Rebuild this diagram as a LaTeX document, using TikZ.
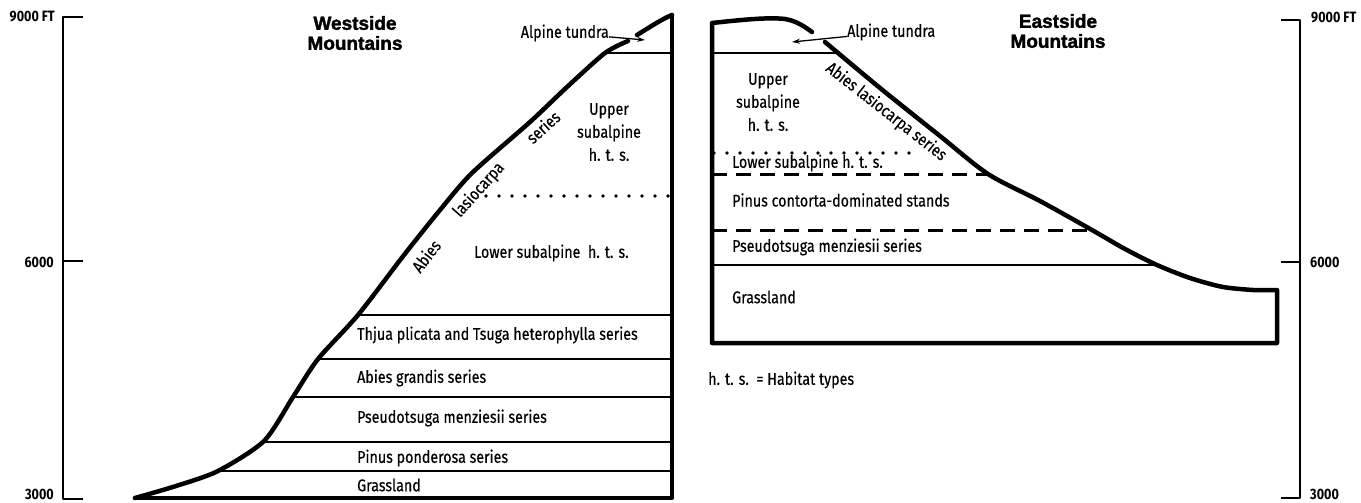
\documentclass[tikz,border=0pt]{standalone}
\usepackage{fontspec}
\setmainfont{Fira Sans}[FakeStretch=0.84,UprightFeatures={FakeBold=0.4}]
\newfontfamily\titlefont{Liberation Sans}[BoldFeatures={FakeBold=1.8}]
\usetikzlibrary{arrows.meta}
\begin{document}
\begin{tikzpicture}[x=1pt,y=-1pt,line join=round,
  outline/.style={line width=4.5pt,line cap=round,line join=round},
  layer/.style={line width=2.8pt},
  axisline/.style={line width=2pt},
  dotline/.style={line width=3.8pt,line cap=round,dash pattern=on 0pt off 13pt},
  dashline/.style={line width=3pt,dash pattern=on 15pt off 9pt},
  arr/.style={line width=1.3pt,-{Stealth[length=8pt,width=5pt]}},
  lbl/.style={font=\fontsize{17}{23}\selectfont,inner sep=0pt,anchor=west},
  ttl/.style={font=\titlefont\bfseries\fontsize{19}{20}\selectfont,align=center,inner sep=0pt},
  ax/.style={font=\bfseries\fontsize{15}{16}\selectfont,inner sep=0pt}]
\useasboundingbox (0,0) rectangle (1361,503);
\fill[white] (0,0) rectangle (1361,503);
% left axis
\draw[axisline] (83,17) -- (63,17) -- (63,499) -- (83,499);
\draw[axisline] (63,261) -- (83,261);
\node[ax,anchor=east] (a9) at (55,17) {9000 FT};
\node[ax,anchor=east] (a6) at (54,262) {6000};
\node[ax,anchor=east] (a3) at (54,494) {3000};
% right axis
\draw[axisline] (1281,20) -- (1300,20) -- (1300,498) -- (1281,498);
\draw[axisline] (1281,262) -- (1300,262);
\node[ax,anchor=west] (b9) at (1311,18) {9000 FT};
\node[ax,anchor=west] (b6) at (1310,262) {6000};
\node[ax,anchor=west] (b3) at (1310,494) {3000};
% titles
\node[ttl] (wt) at (355,33) {Westside\\Mountains};
\node[ttl] (et) at (1058,31) {Eastside\\Mountains};
% ---------- westside mountain
\draw[layer] (358,315) -- (672,315);
\draw[layer] (318,359) -- (672,359);
\draw[layer] (293,397) -- (672,397);
\draw[layer] (264,442) -- (672,442);
\draw[layer] (218,471) -- (672,471);
\draw[layer] (605,53) -- (672,53);
\draw[dotline] (486,196) -- (670,196);
\draw[outline] plot[smooth,tension=0.45] coordinates {(135,498) (176,486) (218,471) (264,441) (293,397) (318,359) (358,315) (404,255) (440,210) (472,173) (530,122) (567,87) (605,53) (628,41)};
\draw[outline] (637,35) .. controls (650,27) and (662,19) .. (672,15);
\draw[outline] (135,498) -- (672,498) -- (672,15);
\node[lbl] (thj) at (357,335) {Thjua plicata and Tsuga heterophylla series};
\node[lbl] (agr) at (357,378) {Abies grandis series};
\node[lbl] (psw) at (357,418) {Pseudotsuga menziesii series};
\node[lbl] (ppo) at (357,458) {Pinus ponderosa series};
\node[lbl] (grw) at (357,485) {Grassland};
\node[lbl] (lsw) at (474,253) {Lower subalpine\ \ h. t. s.};
\node[lbl,align=center,anchor=center] (usw) at (609,132) {Upper\\subalpine\\h. t. s.};
\node[lbl,anchor=center,rotate=52] (ab1) at (426,256) {Abies};
\node[lbl,anchor=center,rotate=48] (ab2) at (479,190) {lasiocarpa};
\node[lbl,anchor=center,rotate=42] (ab3) at (543,127) {series};
\node[lbl,anchor=east] (atw) at (609,33) {Alpine tundra};
\coordinate (atwend) at (645,40);
\draw[arr] (atw) -- (atwend);
% ---------- eastside mountain
\draw[layer] (712,53) -- (838,53);
\draw[dotline] (714,153) -- (920,153);
\draw[dashline] (712,174) -- (988,174);
\draw[dashline] (712,230) -- (1092,230);
\draw[layer] (712,265) -- (1157,265);
\draw[outline] plot[smooth,tension=0.5] coordinates {(825,42) (880,88) (940,136) (988,174) (1040,201) (1092,230) (1125,249) (1157,265) (1190,278) (1223,287) (1253,290)} -- (1277,290) -- (1277,343) -- (712,343) -- (712,23) .. controls (740,20) and (768,17) .. (785,19) .. controls (797,21) and (805,27) .. (812,32);
\node[lbl,align=center,anchor=center] (use) at (768,102) {Upper\\subalpine\\h. t. s.};
\node[lbl] (lse) at (732,163) {Lower subalpine h. t. s.};
\node[lbl] (pco) at (732,200) {Pinus contorta-dominated stands};
\node[lbl] (pse) at (732,247) {Pseudotsuga menziesii series};
\node[lbl] (gre) at (732,297) {Grassland};
\node[lbl,anchor=center,rotate=-38] (als) at (886,112) {Abies lasiocarpa series};
\node[lbl] (ate) at (847,32) {Alpine tundra};
\coordinate (ateend) at (792,42);
\draw[arr] (ate) -- (ateend);
\node[lbl] (hts) at (708,380) {h. t. s.\ \ = Habitat types};
\end{tikzpicture}
\end{document}
